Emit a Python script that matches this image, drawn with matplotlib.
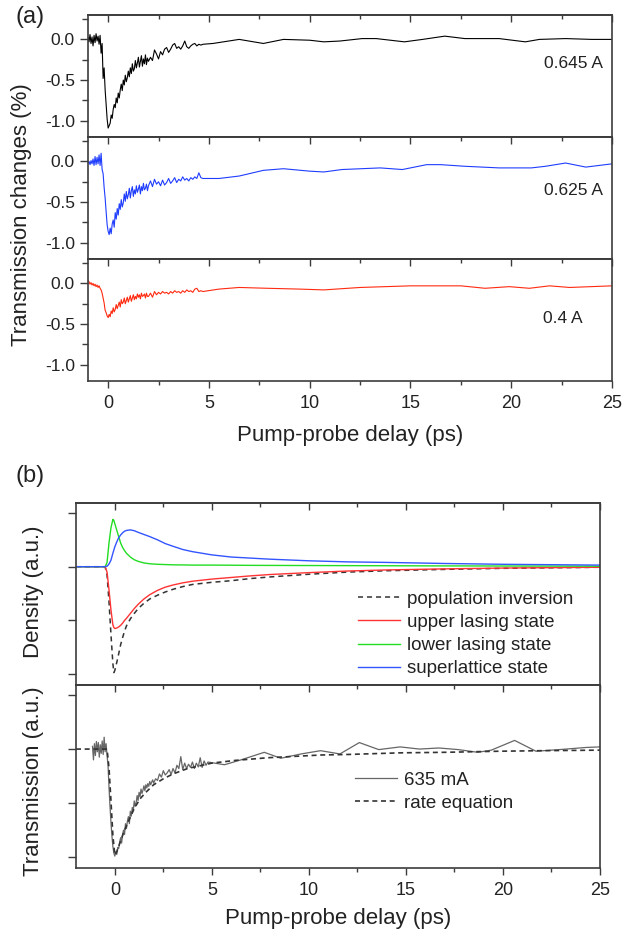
import matplotlib
matplotlib.use("Agg")
import matplotlib.pyplot as plt
from matplotlib.ticker import MultipleLocator, FormatStrFormatter

plt.rcParams['font.family'] = ['Liberation Sans', 'DejaVu Sans']
plt.rcParams['axes.unicode_minus'] = False

# ---------------- panel (a) data ----------------
t_a_dense = [-1.00, -0.95, -0.90, -0.85, -0.80, -0.75, -0.70, -0.65, -0.60, -0.55,
             -0.50, -0.45, -0.40, -0.35, -0.30, -0.25, -0.20, -0.15, -0.10, -0.05,
             0.00, 0.05, 0.10, 0.15, 0.20, 0.25, 0.30, 0.35, 0.40, 0.45,
             0.50, 0.55, 0.60, 0.65, 0.70, 0.75, 0.80, 0.85, 0.90, 0.95,
             1.00, 1.05, 1.10, 1.15, 1.20, 1.25, 1.30, 1.35, 1.40, 1.45,
             1.50, 1.55, 1.60, 1.65, 1.70, 1.75, 1.80, 1.85, 1.90, 1.95,
             2.00, 2.1, 2.2, 2.3, 2.4, 2.5, 2.6, 2.7, 2.8, 2.9,
             3.0, 3.1, 3.2, 3.3, 3.4, 3.5, 3.6, 3.7, 3.8, 3.9,
             4.0, 4.1, 4.2, 4.3, 4.4, 4.5, 4.6, 4.7]

black_dense = [0.02, -0.03, 0.06, -0.05, 0.03, -0.08, 0.05, -0.04, 0.07, -0.02,
               0.04, -0.06, 0.05, -0.17, -0.05, -0.48, -0.35, -0.62, -0.80, -0.98,
               -1.09, -1.06, -1.03, -0.93, -0.97, -0.86, -0.80, -0.84, -0.72, -0.78,
               -0.66, -0.72, -0.62, -0.55, -0.63, -0.50, -0.56, -0.44, -0.52, -0.47,
               -0.39, -0.46, -0.35, -0.42, -0.30, -0.39, -0.36, -0.26, -0.35, -0.29,
               -0.22, -0.34, -0.27, -0.20, -0.33, -0.24, -0.30, -0.19, -0.31, -0.23,
               -0.27, -0.22, -0.26, -0.13, -0.18, -0.24, -0.15, -0.19, -0.12, -0.10,
               -0.16, -0.12, -0.07, -0.05, -0.11, -0.09, -0.12, -0.08, -0.02, -0.09,
               -0.11, -0.08, -0.06, -0.05, -0.08, -0.06, -0.07, -0.06]
t_black_tail = [5.2, 6.5, 7.7, 8.7, 10.0, 10.7, 11.5, 12.6, 13.3, 14.7,
                15.6, 16.7, 17.7, 19.4, 20.7, 21.4, 22.7, 24.0, 25.0]
black_tail = [-0.05, 0.0, -0.05, 0.0, -0.01, -0.03, -0.02, 0.01, 0.01, -0.03,
              0.0, 0.04, 0.01, 0.01, -0.03, 0.0, 0.01, 0.0, 0.0]

blue_dense = [-0.02, 0.00, -0.04, 0.01, -0.03, 0.03, -0.05, 0.06, -0.04, 0.05,
              -0.03, 0.08, -0.05, 0.10, -0.10, -0.15, -0.32, -0.45, -0.62, -0.78,
              -0.86, -0.90, -0.82, -0.89, -0.77, -0.72, -0.81, -0.63, -0.71, -0.58,
              -0.66, -0.52, -0.59, -0.47, -0.56, -0.51, -0.40, -0.49, -0.37, -0.46,
              -0.41, -0.33, -0.45, -0.36, -0.31, -0.43, -0.35, -0.40, -0.30, -0.38,
              -0.34, -0.29, -0.40, -0.31, -0.36, -0.27, -0.35, -0.33, -0.28, -0.36,
              -0.30, -0.24, -0.31, -0.22, -0.28, -0.25, -0.30, -0.23, -0.29, -0.26,
              -0.21, -0.27, -0.24, -0.20, -0.26, -0.22, -0.24, -0.19, -0.23, -0.21,
              -0.24, -0.20, -0.22, -0.19, -0.21, -0.14, -0.20, -0.21]
t_blue_tail = [5.5, 6.5, 7.7, 8.7, 10.0, 10.7, 11.6, 13.5, 14.6, 15.8,
               16.5, 17.7, 19.4, 21.0, 21.7, 22.7, 23.7, 25.0]
blue_tail = [-0.21, -0.18, -0.11, -0.09, -0.12, -0.13, -0.10, -0.08, -0.10, -0.04,
             -0.04, -0.06, -0.08, -0.08, -0.06, -0.02, -0.07, -0.03]

red_dense = [0.04, 0.02, -0.01, 0.01, -0.02, 0.00, -0.03, -0.01, -0.04, -0.02,
             -0.05, -0.03, -0.06, -0.08, -0.12, -0.18, -0.24, -0.33, -0.36, -0.40,
             -0.42, -0.38, -0.41, -0.34, -0.37, -0.30, -0.35, -0.32, -0.26, -0.31,
             -0.27, -0.23, -0.29, -0.20, -0.25, -0.23, -0.18, -0.25, -0.21, -0.17,
             -0.23, -0.19, -0.15, -0.22, -0.18, -0.14, -0.20, -0.16, -0.19, -0.13,
             -0.17, -0.14, -0.19, -0.12, -0.16, -0.15, -0.13, -0.18, -0.12, -0.16,
             -0.16, -0.12, -0.17, -0.10, -0.14, -0.11, -0.13, -0.10, -0.12, -0.11,
             -0.13, -0.10, -0.12, -0.09, -0.11, -0.10, -0.12, -0.09, -0.11, -0.08,
             -0.10, -0.09, -0.11, -0.07, -0.06, -0.10, -0.09, -0.10]
t_red_tail = [5.5, 6.5, 7.9, 9.5, 10.7, 12.5, 15.0, 17.5, 18.7, 19.9, 20.9, 21.9, 22.9, 25.0]
red_tail = [-0.07, -0.05, -0.06, -0.07, -0.08, -0.05, -0.03, -0.03, -0.06, -0.04,
            -0.06, -0.03, -0.05, -0.03]

current_labels = ["0.645 A", "0.625 A", "0.4 A"]

# ---------------- panel (b) data ----------------
t_model = [-2.0, -0.5, -0.4, -0.3, -0.2, -0.1, -0.05, 0.0, 0.1, 0.2,
           0.3, 0.4, 0.5, 0.6, 0.8, 1.0, 1.2, 1.5, 1.8, 2.2,
           2.6, 3.0, 3.5, 4.0, 5.0, 6.0, 7.0, 8.0, 10.0, 12.0,
           14.0, 17.0, 20.0, 25.0]
pop_inversion = [0, 0, -0.15, -0.65, -1.25, -1.80, -1.97, -1.93, -1.78, -1.62,
                 -1.45, -1.32, -1.20, -1.10, -0.97, -0.87, -0.78, -0.68, -0.60, -0.53,
                 -0.47, -0.42, -0.37, -0.33, -0.29, -0.26, -0.22, -0.19, -0.14, -0.10,
                 -0.075, -0.05, -0.03, -0.01]
upper_state = [0, 0, -0.10, -0.43, -0.80, -1.08, -1.13, -1.15, -1.14, -1.12,
               -1.09, -1.05, -1.00, -0.96, -0.87, -0.78, -0.70, -0.60, -0.52, -0.44,
               -0.38, -0.34, -0.30, -0.27, -0.23, -0.20, -0.17, -0.145, -0.11, -0.08,
               -0.06, -0.04, -0.025, -0.01]
lower_state = [0, 0, 0.08, 0.44, 0.72, 0.88, 0.86, 0.80, 0.68, 0.56,
               0.44, 0.36, 0.30, 0.25, 0.18, 0.13, 0.10, 0.07, 0.055, 0.045,
               0.04, 0.035, 0.033, 0.03, 0.03, 0.028, 0.025, 0.024, 0.022, 0.02,
               0.018, 0.015, 0.013, 0.01]
superlattice = [0, 0, 0.01, 0.05, 0.12, 0.25, 0.31, 0.37, 0.46, 0.54,
                0.59, 0.63, 0.66, 0.675, 0.685, 0.67, 0.64, 0.60, 0.56, 0.50,
                0.43, 0.38, 0.32, 0.28, 0.22, 0.18, 0.16, 0.14, 0.11, 0.09,
                0.08, 0.06, 0.045, 0.03]
density_labels = ["population inversion", "upper lasing state",
                  "lower lasing state", "superlattice state"]

t_meas = [-1.15, -1.10, -1.05, -1.00, -0.95, -0.90, -0.85, -0.80, -0.75, -0.70,
          -0.65, -0.60, -0.55, -0.50, -0.45, -0.40,
          -0.35, -0.30, -0.25, -0.20, -0.15, -0.10, -0.05, 0.00, 0.05, 0.10,
          0.15, 0.20, 0.25, 0.30, 0.35, 0.40, 0.45, 0.50, 0.55, 0.60,
          0.65, 0.70, 0.75, 0.80, 0.85, 0.90, 0.95, 1.00, 1.05, 1.10,
          1.15, 1.20, 1.25, 1.30, 1.35, 1.40, 1.45, 1.50, 1.55, 1.60,
          1.65, 1.70, 1.75, 1.80, 1.85, 1.90, 1.95, 2.00,
          2.1, 2.2, 2.3, 2.4, 2.5, 2.6, 2.7, 2.8, 2.9, 3.0,
          3.1, 3.2, 3.3, 3.4, 3.5, 3.6, 3.7, 3.8, 3.9, 4.0,
          4.1, 4.2, 4.3, 4.4, 4.5, 4.6, 4.7, 4.8,
          5.65, 6.5, 7.7, 8.55, 9.6, 10.6, 11.6, 12.6, 13.6, 14.7,
          15.7, 16.7, 17.7, 18.7, 19.4, 20.6, 21.7, 22.9, 24.3, 25.0]
meas_635 = [0.05, -0.20, 0.10, -0.12, 0.14, -0.05, 0.12, -0.15, 0.08, -0.08,
            0.15, -0.10, 0.22, -0.05, 0.10, -0.12,
            -0.30, -0.70, -1.05, -1.35, -1.60, -1.80, -1.92, -1.98, -1.90, -1.95,
            -1.82, -1.84, -1.72, -1.64, -1.74, -1.58, -1.50, -1.58, -1.38, -1.47,
            -1.33, -1.25, -1.38, -1.15, -1.24, -1.08, -1.14, -0.96, -1.06, -0.99,
            -0.86, -0.95, -0.80, -0.88, -0.74, -0.82, -0.76, -0.68, -0.77, -0.66,
            -0.72, -0.64, -0.69, -0.60, -0.66, -0.61, -0.57, -0.63,
            -0.55, -0.58, -0.46, -0.52, -0.40, -0.48, -0.44, -0.38, -0.47, -0.36,
            -0.44, -0.30, -0.36, -0.14, -0.38, -0.26, -0.36, -0.28, -0.34, -0.24,
            -0.36, -0.26, -0.33, -0.16, -0.34, -0.22, -0.30, -0.24,
            -0.29, -0.20, -0.06, -0.17, -0.09, -0.03, -0.09, 0.12, -0.01, 0.04,
            0.0, 0.02, -0.01, -0.06, -0.02, 0.16, -0.04, -0.01, 0.03, 0.04]
t_rate = [-2.0, -0.4, -0.3, -0.2, -0.1, 0.0, 0.1, 0.2, 0.3, 0.5,
          0.7, 1.0, 1.3, 1.6, 2.0, 2.5, 3.0, 3.75, 4.5, 5.0,
          6.2, 7.9, 9.0, 10.6, 12.0, 14.7, 17.0, 19.8, 22.0, 25.0]
rate_eq = [0, 0, -0.35, -0.95, -1.6, -1.96, -1.90, -1.80, -1.70, -1.50,
           -1.34, -1.10, -0.92, -0.80, -0.66, -0.55, -0.46, -0.36, -0.30, -0.26,
           -0.21, -0.16, -0.14, -0.11, -0.10, -0.07, -0.06, -0.04, -0.03, -0.02]
trans_labels = ["635 mA", "rate equation"]

# ---------------- figure ----------------
W, H = 624, 938
fig = plt.figure(figsize=(W / 100, H / 100), dpi=100)


def rect(left, top, right, bottom):
    return [left / W, 1 - bottom / H, (right - left) / W, (bottom - top) / H]


SPINE = '#3c3c3c'
TXT = '#222222'


def style(ax, bottom_labels):
    for s in ax.spines.values():
        s.set_linewidth(1.2)
        s.set_color(SPINE)
    ax.xaxis.set_major_locator(MultipleLocator(5))
    ax.xaxis.set_minor_locator(MultipleLocator(2.5))
    ax.tick_params(axis='x', which='both', direction='out', top=False,
                   bottom=bottom_labels, labelbottom=bottom_labels,
                   color=SPINE, width=1.0, labelsize=13, pad=5,
                   labelcolor=TXT)
    ax.tick_params(axis='x', which='major', length=5)
    ax.tick_params(axis='x', which='minor', length=3.2)
    ax.tick_params(axis='y', which='both', direction='out', right=False,
                   color=SPINE, width=1.0, labelsize=12.5, pad=4,
                   labelcolor=TXT)
    ax.tick_params(axis='y', which='major', length=5.5)
    ax.tick_params(axis='y', which='minor', length=4)
    sec = ax.secondary_xaxis('top')
    sec.xaxis.set_major_locator(MultipleLocator(5))
    sec.xaxis.set_minor_locator(MultipleLocator(2.5))
    sec.tick_params(axis='x', which='both', direction='in', labeltop=False,
                    color=SPINE, width=1.0)
    sec.tick_params(axis='x', which='major', length=5)
    sec.tick_params(axis='x', which='minor', length=3.2)
    sec.spines['top'].set_linewidth(1.2)
    sec.spines['top'].set_color(SPINE)


# panel (a)
a_rects = [rect(88, 15, 612, 137), rect(88, 137, 612, 259), rect(88, 259, 612, 381)]
a_series = [
    (t_a_dense + t_black_tail, black_dense + black_tail, '#000000'),
    (t_a_dense + t_blue_tail, blue_dense + blue_tail, '#1f3dff'),
    (t_a_dense + t_red_tail, red_dense + red_tail, '#ff2a10'),
]
label_pos = [(24.55, -0.30), (24.55, -0.354), (23.56, -0.43)]
for i, (r, (tx, ty, c)) in enumerate(zip(a_rects, a_series)):
    ax = fig.add_axes(r)
    ax.plot(tx, ty, color=c, lw=0.8)
    ax.set_xlim(-1.0, 25)
    ax.set_ylim(-1.2, 0.3)
    ax.yaxis.set_major_locator(MultipleLocator(0.5))
    ax.yaxis.set_minor_locator(MultipleLocator(0.25))
    ax.yaxis.set_major_formatter(FormatStrFormatter('%.1f'))
    style(ax, bottom_labels=(i == 2))
    ax.text(label_pos[i][0], label_pos[i][1], current_labels[i], ha='right',
            va='center', fontsize=12.5, color=TXT)

fig.text(22 / W, 1 - 215 / H, 'Transmission changes (%)', rotation=90,
         ha='center', va='center', fontsize=16, color=TXT)
fig.text(350 / W, 1 - 435 / H, 'Pump-probe delay (ps)', ha='center',
         va='center', fontsize=16, color=TXT)
fig.text(30 / W, 1 - 17 / H, '(a)', ha='center', va='center', fontsize=17,
         color=TXT)

# panel (b) top
b1 = fig.add_axes(rect(76, 503, 600, 685))
b1.plot(t_model, pop_inversion, color='#333333', lw=1.1, ls=(0, (3.3, 2.6)),
        label=density_labels[0])
b1.plot(t_model, upper_state, color='#ff3333', lw=1.0, label=density_labels[1])
b1.plot(t_model, lower_state, color='#22dd22', lw=1.0, label=density_labels[2])
b1.plot(t_model, superlattice, color='#3355ff', lw=1.0, label=density_labels[3])
b1.set_xlim(-2, 25)
b1.set_ylim(-2.2, 1.185)
b1.yaxis.set_major_locator(MultipleLocator(1))
style(b1, bottom_labels=False)
b1.tick_params(axis='y', labelleft=False)
leg1 = b1.legend(loc='upper left', bbox_to_anchor=(0.538, 0.518), frameon=False,
                 fontsize=13.5, handlelength=2.25, handletextpad=0.37,
                 labelspacing=0.32, borderpad=0, borderaxespad=0)
for t in leg1.get_texts():
    t.set_color(TXT)

# panel (b) bottom
b2 = fig.add_axes(rect(76, 685, 600, 868))
b2.plot(t_meas, meas_635, color='#666666', lw=0.9, label=trans_labels[0])
b2.plot(t_rate, rate_eq, color='#333333', lw=1.2, ls=(0, (3.0, 2.2)),
        label=trans_labels[1])
b2.set_xlim(-2, 25)
b2.set_ylim(-2.2, 1.185)
b2.yaxis.set_major_locator(MultipleLocator(1))
style(b2, bottom_labels=True)
b2.tick_params(axis='y', labelleft=False)
leg2 = b2.legend(loc='upper left', bbox_to_anchor=(0.532, 0.526), frameon=False,
                 fontsize=13.5, handlelength=2.25, handletextpad=0.37,
                 labelspacing=0.32, borderpad=0, borderaxespad=0)
for t in leg2.get_texts():
    t.set_color(TXT)

fig.text(33 / W, 1 - 592 / H, 'Density (a.u.)', rotation=90, ha='center',
         va='center', fontsize=16, color=TXT)
fig.text(34 / W, 1 - 781 / H, 'Transmission (a.u.)', rotation=90, ha='center',
         va='center', fontsize=16, color=TXT)
fig.text(338 / W, 1 - 918 / H, 'Pump-probe delay (ps)', ha='center',
         va='center', fontsize=16, color=TXT)
fig.text(30 / W, 1 - 476 / H, '(b)', ha='center', va='center', fontsize=17,
         color=TXT)

fig.savefig('out.png', dpi=100)
